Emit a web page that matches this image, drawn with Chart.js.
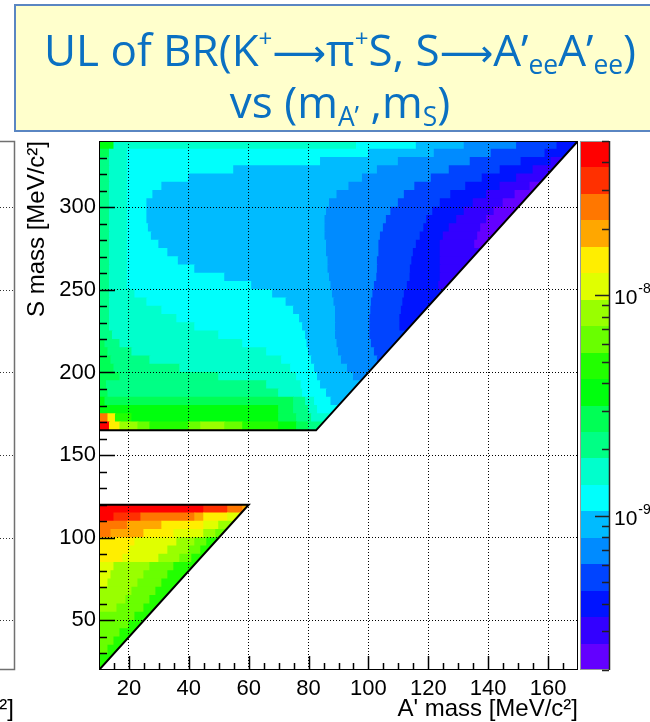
<!DOCTYPE html>
<html lang="en">
<head>
<meta charset="utf-8">
<title>UL of BR(K+ → π+ S, S → A'ee A'ee)</title>
<script src="https://cdn.jsdelivr.net/npm/chart.js@4.4.1/dist/chart.umd.min.js"></script>
<style>
  html, body { margin: 0; padding: 0; background: #ffffff; overflow: hidden; }
  #stage { position: relative; width: 650px; height: 722px; overflow: hidden; }
  #ul-plot { position: absolute; left: 0; top: 0; }
  #title-box {
    position: absolute; left: 14px; top: 4px; width: 652px; height: 128px;
    box-sizing: border-box; border: 2px solid #5a86c2; background: #ffffcc;
    color: #0a70c2; font-family: 'Open Sans', 'Noto Sans', sans-serif; font-size: 44px;
    line-height: 48px; text-align: center; padding-top: 19px; white-space: nowrap;
  }
  #title-box sup { font-size: 0.55em; line-height: 0; vertical-align: 0.8em; }
  #title-box sub { font-size: 0.6em; line-height: 0; vertical-align: -0.3em; }
  #title-box .arrow { font-family: 'DejaVu Sans', sans-serif; font-size: 0.85em; }
</style>
</head>
<body>
<div id="stage">
  <canvas id="ul-plot" width="650" height="722"></canvas>
  <div id="title-box">
    <div>UL of BR(K<sup>+</sup><span class="arrow">⟶</span>π<sup>+</sup>S, S<span class="arrow">⟶</span>A’<sub>ee</sub>A’<sub>ee</sub>)</div>
    <div>vs (m<sub>A’</sub> ,m<sub>S</sub>)</div>
  </div>
</div>
<script>
// ====================== DATA ======================
// S mass bin centres [MeV/c2], 5 MeV rows, top row first
const sMassUpper = [337.5, 332.5, 327.5, 322.5, 317.5, 312.5, 307.5, 302.5, 297.5, 292.5, 287.5, 282.5, 277.5,
  272.5, 267.5, 262.5, 257.5, 252.5, 247.5, 242.5, 237.5, 232.5, 227.5, 222.5, 217.5, 212.5, 207.5, 202.5,
  197.5, 192.5, 187.5, 182.5, 177.5, 172.5, 167.5];
const sMassLower = [117.5, 112.5, 107.5, 102.5, 97.5, 92.5, 87.5, 82.5, 77.5, 72.5, 67.5, 62.5, 57.5, 52.5,
  47.5, 42.5, 37.5, 32.5, 27.5, 22.5];

// UL on BR in units of 1e-10. Each row belongs to one S bin and lists
// [A' mass where the level starts, UL] going right; a level runs until the next one starts.
const ulUpper = [
  [[10, 36], [15, 16], [96, 12], [116, 9], [132, 7], [149.5, 5.3], [163, 4]],
  [[10, 27], [13.5, 16], [19.5, 12], [100, 9], [122, 7], [141, 5.3], [159, 4]],
  [[10, 21], [13.5, 16], [19.5, 12], [84, 9], [110, 7], [134, 5.3], [151, 4], [161, 3]],
  [[10, 21], [13.5, 16], [19.5, 12], [55, 9], [103, 7], [127, 5.3], [144, 4], [155, 3]],
  [[10, 21], [13.5, 16], [19.5, 12], [40, 9], [98, 7], [121, 5.3], [138, 4], [149.5, 3]],
  [[10, 21], [13.5, 16], [19.5, 12], [31, 9], [93.5, 7], [115.5, 5.3], [132.5, 4], [144, 3], [154, 2.3]],
  [[10, 21], [13.5, 16], [19.5, 12], [28, 9], [89.5, 7], [112, 5.3], [127.5, 4], [139.5, 3], [149, 2.3]],
  [[10, 21], [13.5, 16], [19.5, 12], [26, 9], [87, 7], [110, 5.3], [124, 4], [135, 3], [145, 2.3]],
  [[10, 21], [13.5, 16], [19.5, 12], [26, 9], [86, 7], [107.5, 5.3], [121.5, 4], [132, 3], [142, 2.3]],
  [[10, 21], [13.5, 16], [19.5, 12], [26, 9], [85.5, 7], [106, 5.3], [119.5, 4], [129.5, 3], [139.5, 2.3]],
  [[10, 21], [13.5, 16], [19.5, 12], [26.5, 9], [85.5, 7], [105, 5.3], [118.5, 4], [127, 3], [137.5, 2.3]],
  [[10, 21], [13.5, 16], [19.5, 12], [27.5, 9], [85.5, 7], [104, 5.3], [117.3, 4], [125, 3], [136.5, 2.3]],
  [[10, 21], [13.5, 16], [19.5, 12], [30, 9], [86, 7], [103.5, 5.3], [116, 4], [124, 3], [135.5, 2.3]],
  [[10, 21], [13.5, 16], [19.5, 12], [33, 9], [86, 7], [103.5, 5.3], [115, 4], [124, 3]],
  [[10, 21], [13.5, 16], [19.5, 12], [36.5, 9], [86.5, 7], [103, 5.3], [114.5, 4], [124, 3]],
  [[10, 21], [13.5, 16], [19.5, 12], [42, 9], [86.5, 7], [103, 5.3], [114, 4], [124, 3]],
  [[10, 21], [13.5, 16], [19.5, 12], [52, 9], [87, 7], [102.8, 5.3], [113.9, 4], [124, 3]],
  [[10, 21], [13.5, 16], [19.5, 12], [61, 9], [87.5, 7], [102, 5.3], [113, 4], [123.5, 3]],
  [[10, 21], [13.5, 16], [22, 12], [68, 9], [88, 7], [101.5, 5.3], [112, 4]],
  [[10, 21], [13.5, 16], [26, 12], [72.5, 9], [88.5, 7], [101, 5.3], [111.5, 4]],
  [[10, 21], [13.5, 16], [31, 12], [75, 9], [89, 7], [100.8, 5.3], [111, 4]],
  [[10, 21], [13.5, 16], [36, 12], [77, 9], [89, 7], [100.5, 5.3], [110.5, 4]],
  [[10, 21], [13.5, 16], [42, 12], [78, 9], [89, 7], [100.5, 5.3], [110.5, 4]],
  [[10, 21], [14.5, 16], [50, 12], [79, 9], [89, 7], [100.5, 5.3]],
  [[10, 27], [12, 21], [17, 16], [58, 12], [79.5, 9], [89.5, 7], [101, 5.3]],
  [[10, 27], [13, 21], [21, 16], [66, 12], [80, 9], [90, 7], [102, 5.3]],
  [[10, 27], [14, 21], [27, 16], [71, 12], [81, 9], [91, 7], [103, 5.3]],
  [[10, 27], [15, 21], [37, 16], [74, 12], [82, 9], [93, 7]],
  [[10, 27], [17, 21], [50, 16], [76, 12], [83, 9], [95, 7]],
  [[10, 27], [12.5, 21], [66, 16], [77.5, 12], [84, 9]],
  [[10, 27], [13, 21], [70, 16], [78, 12], [86, 9]],
  [[10, 36], [12, 27], [75, 21], [79, 16], [82, 12], [87.5, 9]],
  [[10, 36], [70, 27], [75, 21], [80, 16], [83, 12]],
  [[10, 250], [13, 145], [15.5, 48], [21, 36], [70, 27], [76, 21], [81, 16]],
  [[10, 430], [13.5, 145], [17, 82], [23, 63], [27, 48], [40, 63], [44, 82], [52, 63], [58, 48], [70, 36], [76, 27], [80, 21]]
];
const ulLower = [
  [[10, 430], [45, 330], [53, 250], [58, 190]],
  [[10, 430], [15, 330], [24, 250], [42, 190], [45, 145], [53, 110]],
  [[10, 250], [19.5, 190], [31, 145], [45, 110], [50, 82]],
  [[10, 250], [14, 190], [25, 145], [35, 110], [45, 82], [49, 63]],
  [[10, 145], [22, 110], [36, 82], [42, 63], [46, 48]],
  [[10, 145], [20, 110], [33, 82], [40, 63], [44, 48]],
  [[10, 145], [18, 110], [30, 82], [37, 63], [41, 48]],
  [[10, 110], [15, 82], [27, 63], [35, 48]],
  [[10, 110], [14, 82], [25, 63], [33, 48]],
  [[10, 110], [13, 82], [23, 63], [31, 48]],
  [[10, 82], [21, 63], [29, 48]],
  [[10, 82], [19, 63], [27, 48]],
  [[10, 82], [16, 63], [25, 48]],
  [[10, 63], [22, 48]],
  [[10, 63], [20, 48]],
  [[10, 63], [17, 48]],
  [[10, 63], [15, 48]],
  [[10, 63], [13, 48]],
  [[10, 48]],
  [[10, 48]]
];

// Allowed regions: m_S > 2 m_A', with the S mass windows
const upperEdge = [{ x: 10, y: 165 }, { x: 82.5, y: 165 }, { x: 170, y: 340 }];
const lowerEdge = [{ x: 10, y: 120 }, { x: 60, y: 120 }, { x: 10, y: 20 }];

const xTickValues = [20, 40, 60, 80, 100, 120, 140, 160];
const yTickValues = [50, 100, 150, 200, 250, 300];
const zRange = [2e-10, 5e-8];
const zLabelExponents = [-9, -8];

// 20 contour colours, lowest level first
const palette = ['#6300ff', '#3300ff', '#0014ff', '#0044ff', '#008bff', '#00bbff', '#00fffc', '#00ffcc',
  '#00ff85', '#00ff55', '#00ff0e', '#22ff00', '#69ff00', '#99ff00', '#e0ff00', '#ffee00',
  '#ffa700', '#ff7700', '#ff3000', '#ff0000'];

// ====================== HELPERS ======================
const logLo = Math.log10(zRange[0]);
const logStep = (Math.log10(zRange[1]) - logLo) / palette.length;

function contourColour(v) {
  let k = Math.floor((Math.log10(v) - logLo) / logStep);
  k = Math.max(0, Math.min(palette.length - 1, k));
  return palette[k];
}

// one horizontal floating bar per level run; the region clip trims the diagonal side
function buildStrips(rows, sCentres, xEnd) {
  const strips = [];
  rows.forEach((row, i) => {
    row.forEach(([x0, ul], j) => {
      const x1 = j + 1 < row.length ? row[j + 1][0] : xEnd;
      strips.push({ x: [x0, x1], y: sCentres[i], ul: ul * 1e-10 });
    });
  });
  return strips;
}

const strips = buildStrips(ulUpper, sMassUpper, 170).concat(buildStrips(ulLower, sMassLower, 60));
const upperRegion = upperEdge.concat([{ x: 10, y: 340 }]);

function tracePolygon(ctx, xs, ys, poly) {
  poly.forEach((p, i) => {
    const px = xs.getPixelForValue(p.x), py = ys.getPixelForValue(p.y);
    if (i === 0) ctx.moveTo(px, py); else ctx.lineTo(px, py);
  });
  ctx.closePath();
}

// ====================== ROOT-STYLE DECORATIONS ======================
const rootStyle = {
  id: 'rootStyle',
  beforeDatasetDraw(chart, args) {
    if (args.meta.type !== 'bar') return;
    const { ctx, scales: { x, y } } = chart;
    ctx.save();
    ctx.beginPath();
    tracePolygon(ctx, x, y, upperRegion);
    tracePolygon(ctx, x, y, lowerEdge);
    ctx.clip();
  },
  afterDatasetDraw(chart, args) {
    if (args.meta.type === 'bar') chart.ctx.restore();
  },
  afterDraw(chart) {
    const { ctx, chartArea: area, scales: { x, y, z } } = chart;
    ctx.save();

    // frame
    ctx.strokeStyle = '#000';
    ctx.lineWidth = 1;
    ctx.strokeRect(area.left + 0.5, area.top + 0.5, area.width - 1, area.height - 1);

    // inward ticks on both axes
    ctx.lineWidth = 1.5;
    ctx.beginPath();
    for (let v = 15; v < x.max; v += 5) {
      const px = Math.round(x.getPixelForValue(v)) + 0.5;
      const len = v % 20 === 0 ? 14 : 7;
      ctx.moveTo(px, area.bottom);
      ctx.lineTo(px, area.bottom - len);
    }
    for (let v = 30; v < y.max; v += 10) {
      const py = Math.round(y.getPixelForValue(v)) + 0.5;
      const len = v % 50 === 0 ? 16 : 8;
      ctx.moveTo(area.left, py);
      ctx.lineTo(area.left + len, py);
    }
    ctx.stroke();

    // colour scale
    const barLeft = area.right + 3, barRight = area.right + 31;
    palette.forEach((col, k) => {
      const yb = Math.round(z.getPixelForValue(Math.pow(10, logLo + k * logStep)));
      const yt = Math.round(z.getPixelForValue(Math.pow(10, logLo + (k + 1) * logStep)));
      ctx.fillStyle = col;
      ctx.fillRect(barLeft, yt, barRight - barLeft, yb - yt);
    });
    ctx.lineWidth = 1;
    ctx.strokeStyle = '#9a9a9a';
    ctx.strokeRect(barLeft - 0.5, z.top + 0.5, barRight - barLeft + 1, z.bottom - z.top - 1);
    ctx.strokeStyle = '#222';
    ctx.lineWidth = 1.5;
    ctx.beginPath();
    ctx.moveTo(barRight + 0.5, z.top);
    ctx.lineTo(barRight + 0.5, z.bottom);
    for (let e = -10; e <= -8; e++) {
      for (let m = 1; m <= 9; m++) {
        const v = m * Math.pow(10, e);
        if (v < zRange[0] * 0.999 || v > zRange[1] * 1.001) continue;
        const py = Math.round(z.getPixelForValue(v)) + 0.5;
        ctx.moveTo(barRight, py);
        ctx.lineTo(barRight - (m === 1 ? 14 : 7), py);
      }
    }
    ctx.stroke();
    ctx.fillStyle = '#000';
    ctx.textAlign = 'left';
    ctx.textBaseline = 'middle';
    zLabelExponents.forEach(e => {
      const py = z.getPixelForValue(Math.pow(10, e));
      ctx.font = '21px "Liberation Sans", Arial, sans-serif';
      ctx.fillText('10', barRight + 5, py + 3);
      const w = ctx.measureText('10').width;
      ctx.font = '14px "Liberation Sans", Arial, sans-serif';
      ctx.fillText(String(e), barRight + 6 + w, py - 6);
    });

    // edge of the neighbouring pad on the left
    ctx.strokeStyle = '#707070';
    ctx.lineWidth = 1.5;
    ctx.beginPath();
    ctx.moveTo(0, area.top + 0.5);
    ctx.lineTo(14.5, area.top + 0.5);
    ctx.lineTo(14.5, area.bottom - 0.5);
    ctx.lineTo(0, area.bottom - 0.5);
    ctx.stroke();
    ctx.setLineDash([1, 2]);
    ctx.strokeStyle = '#333';
    ctx.lineWidth = 1;
    yTickValues.forEach(v => {
      const py = Math.round(y.getPixelForValue(v)) + 0.5;
      ctx.beginPath();
      ctx.moveTo(0, py);
      ctx.lineTo(13, py);
      ctx.stroke();
    });
    ctx.setLineDash([]);
    ctx.font = '24px "Liberation Sans", Arial, sans-serif';
    ctx.textAlign = 'right';
    ctx.fillText('[MeV/c²]', 14, 709);

    ctx.restore();
  }
};

// ====================== CHART ======================
Chart.defaults.font.family = '"Liberation Sans", Arial, sans-serif';
Chart.defaults.color = '#000';

const gridStyle = { color: '#000', lineWidth: 1, drawTicks: false, offset: false, z: 1 };
const borderStyle = { display: false, dash: [1, 2] };

new Chart(document.getElementById('ul-plot'), {
  type: 'bar',
  data: {
    datasets: [
      {
        type: 'line', data: upperEdge, borderColor: '#000', borderWidth: 2,
        pointRadius: 0, fill: false, tension: 0, order: 0
      },
      {
        type: 'line', data: lowerEdge, borderColor: '#000', borderWidth: 2,
        pointRadius: 0, fill: false, tension: 0, order: 0
      },
      {
        type: 'bar', indexAxis: 'y', data: strips, order: 1,
        backgroundColor: c => (c.raw ? contourColour(c.raw.ul) : palette[0]),
        borderWidth: 0, barPercentage: 1, categoryPercentage: 1, inflateAmount: 0.5
      }
    ]
  },
  options: {
    responsive: false,
    animation: false,
    events: [],
    layout: { padding: { left: 0, top: 141, right: 72, bottom: 0 } },
    plugins: { legend: { display: false }, tooltip: { enabled: false } },
    scales: {
      x: {
        type: 'linear', position: 'bottom', min: 10, max: 170, offset: false,
        afterBuildTicks: s => { s.ticks = xTickValues.map(v => ({ value: v })); },
        afterFit: s => { s.height = 52; },
        grid: gridStyle, border: borderStyle,
        ticks: { autoSkip: false, maxRotation: 0, padding: 6, font: { size: 22 } },
        title: {
          display: true, text: "A' mass [MeV/c²]", align: 'end',
          font: { size: 24, lineHeight: 1 }, padding: { top: 0, bottom: 1 }
        }
      },
      y: {
        type: 'linear', position: 'left', min: 20, max: 340, offset: false,
        afterBuildTicks: s => { s.ticks = yTickValues.map(v => ({ value: v })); },
        afterFit: s => { s.width = 99; },
        grid: gridStyle, border: borderStyle,
        ticks: { autoSkip: false, padding: 3, font: { size: 22 } },
        title: {
          display: true, text: 'S mass [MeV/c²]', align: 'end',
          font: { size: 24, lineHeight: 1 }, padding: { top: 25, bottom: 0 }
        }
      },
      z: { type: 'logarithmic', position: 'right', display: false, min: zRange[0], max: zRange[1] }
    }
  },
  plugins: [rootStyle]
});
</script>
</body>
</html>
